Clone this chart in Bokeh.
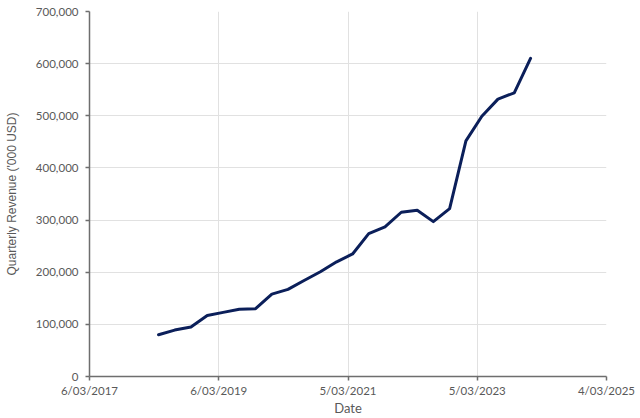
import pandas as pd
from bokeh.plotting import figure
from bokeh.models import (Range1d, FixedTicker, NumeralTickFormatter,
                          CustomJSTickFormatter, ColumnDataSource)
from bokeh.embed import file_html
from bokeh.resources import INLINE

# ---- data ----
quarter_ends = [
    "2018-03-31", "2018-06-30", "2018-09-30", "2018-12-31",
    "2019-03-31", "2019-06-30", "2019-09-30", "2019-12-31",
    "2020-03-31", "2020-06-30", "2020-09-30", "2020-12-31",
    "2021-03-31", "2021-06-30", "2021-09-30", "2021-12-31",
    "2022-03-31", "2022-06-30", "2022-09-30", "2022-12-31",
    "2023-03-31", "2023-06-30", "2023-09-30", "2023-12-31",
]
revenue = [
    80000, 89000, 95000, 117000,
    123000, 129000, 130000, 158000,
    167000, 184000, 201000, 220000,
    235000, 274000, 287000, 315000,
    319000, 297000, 322000, 452000,
    499000, 532000, 544000, 610000,
]
x_tick_dates = ["2017-03-06", "2019-03-06", "2021-03-05", "2023-03-05", "2025-03-04"]
y_ticks = [0, 100000, 200000, 300000, 400000, 500000, 600000, 700000]
x_title = "Date"
y_title = "Quarterly Revenue ('000 USD)"


def to_ms(s):
    return pd.Timestamp(s).value // 10**6


src = ColumnDataSource(dict(x=[pd.Timestamp(d) for d in quarter_ends], y=revenue))
xt = [to_ms(d) for d in x_tick_dates]

p = figure(width=640, height=418, output_backend="svg", toolbar_location=None,
           x_axis_type="datetime",
           x_range=Range1d(xt[0], xt[-1]), y_range=Range1d(y_ticks[0], y_ticks[-1]),
           min_border_left=89, min_border_right=34, min_border_top=11,
           min_border_bottom=42)
p.outline_line_color = None
p.background_fill_color = "white"
p.border_fill_color = "white"

p.line("x", "y", source=src, line_color="#0b1f5a", line_width=3,
       line_join="round", line_cap="round")

label_font = "Lato"
tick_color = "#595959"
axis_color = "#6e6e6e"

xa = p.xaxis[0]
xa.ticker = FixedTicker(ticks=xt)
xa.formatter = CustomJSTickFormatter(code="""
const d = new Date(tick);
return d.getUTCDate() + '/' + String(d.getUTCMonth()+1).padStart(2,'0') + '/' + d.getUTCFullYear();
""")
xa.axis_label = x_title
xa.axis_label_text_font = label_font
xa.axis_label_text_font_size = "13px"
xa.axis_label_text_font_style = "normal"
xa.axis_label_text_color = tick_color
xa.axis_label_standoff = 0

ya = p.yaxis[0]
ya.ticker = FixedTicker(ticks=y_ticks)
ya.formatter = NumeralTickFormatter(format="0,0")
ya.axis_label = y_title
ya.axis_label_text_font = "Liberation Sans"
ya.axis_label_text_font_size = "12px"
ya.axis_label_text_font_style = "normal"
ya.axis_label_text_color = tick_color
ya.axis_label_standoff = 14

for ax in (xa, ya):
    ax.major_label_text_font = label_font
    ax.major_label_text_font_size = "11.5px"
    ax.major_label_text_color = tick_color
    ax.axis_line_color = axis_color
    ax.axis_line_width = 1.5
    ax.major_tick_line_color = axis_color
    ax.major_tick_line_width = 1.5
    ax.major_tick_out = 4
    ax.major_tick_in = 0
    ax.minor_tick_line_color = None
xa.major_label_standoff = 3
ya.major_label_standoff = 7

for g in (p.xgrid[0], p.ygrid[0]):
    g.grid_line_color = "#e1e1e1"
    g.grid_line_width = 1
p.xgrid[0].ticker = xa.ticker
p.ygrid[0].ticker = ya.ticker

open("out.html", "w").write(file_html(p, INLINE))
